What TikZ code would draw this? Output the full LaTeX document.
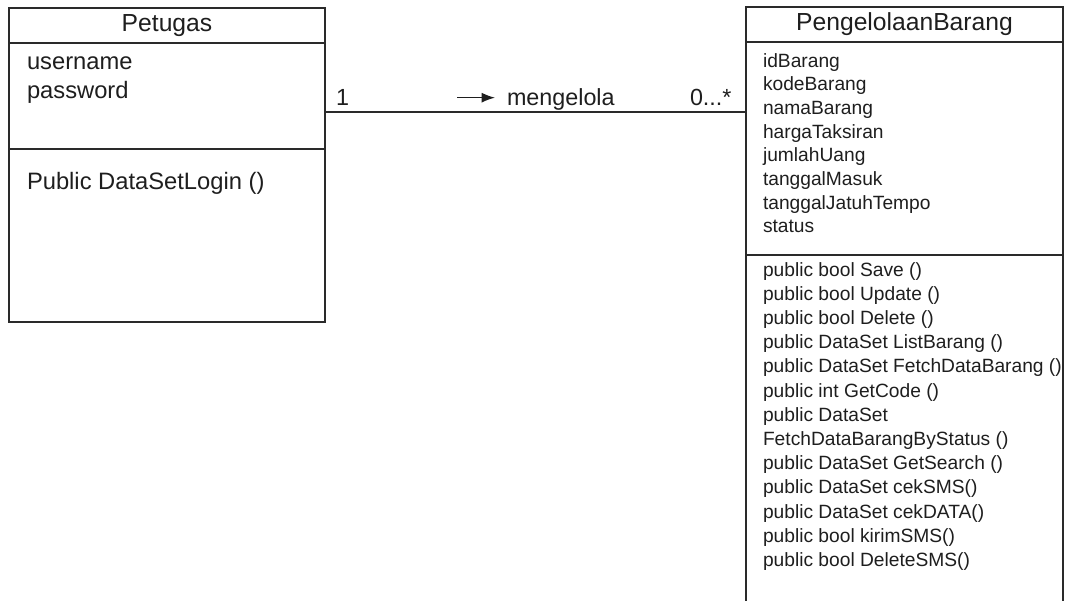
\documentclass[tikz,border=0pt]{standalone}
\usepackage{fontspec}
\setmainfont{Liberation Sans}
\usetikzlibrary{arrows.meta,positioning}
\definecolor{UmlInk}{HTML}{1E1E1E}
\definecolor{UmlLine}{HTML}{2A2A2A}
\tikzset{
  every node/.style={inner sep=0pt, outer sep=0pt, text=UmlInk},
  compartment/.style={draw=UmlLine, line width=1.1pt, rectangle},
  classname/.style={compartment, font=\fontsize{18.5}{22}\selectfont},
  member/.style={anchor=base west, font=\fontsize{14.4}{17}\selectfont},
  bigmember/.style={anchor=base west, font=\fontsize{17.8}{21}\selectfont},
  assoclabel/.style={anchor=base west, font=\fontsize{17.5}{21}\selectfont},
  association/.style={draw=UmlLine, line width=1.1pt},
  direction/.style={-{Latex[length=10pt,width=7.5pt]}, draw=UmlInk, line width=1pt},
}
\begin{document}
\begin{tikzpicture}[x=0.75pt,y=-0.75pt]
  \clip (0,0) rectangle (1066,600);

  % Class Petugas
  \node[classname, minimum width=237pt, minimum height=26.25pt, anchor=north west] (petugas-head) at (9,8) {Petugas};
  \node[compartment, minimum width=237pt, minimum height=79.5pt, below=0pt of petugas-head] (petugas-attr) {};
  \node[compartment, minimum width=237pt, minimum height=129.75pt, below=0pt of petugas-attr] (petugas-ops) {};
  \node[bigmember] (petugas-a1) at (27,69) {username};
  \node[bigmember] (petugas-a2) at (27,98) {password};
  \node[bigmember] (petugas-m1) at (27,189) {Public DataSetLogin ()};

  % Class PengelolaanBarang (runs off the bottom)
  \node[classname, minimum width=237.75pt, minimum height=26.25pt, anchor=north west] (barang-head) at (746,7) {PengelolaanBarang};
  \node[compartment, minimum width=237.75pt, minimum height=159.75pt, below=0pt of barang-head] (barang-attr) {};
  \node[compartment, minimum width=237.75pt, minimum height=288.75pt, below=0pt of barang-attr] (barang-ops) {};
  \foreach \name [count=\i from 0] in {idBarang, kodeBarang, namaBarang, hargaTaksiran, jumlahUang, tanggalMasuk, tanggalJatuhTempo, status}
    \node[member] (barang-a\i) at (763,67+23.7*\i) {\name};
  \foreach \name [count=\i from 0] in {public bool Save (), public bool Update (), public bool Delete (), public DataSet ListBarang (), public DataSet FetchDataBarang (), public int GetCode (), public DataSet, FetchDataBarangByStatus (), public DataSet GetSearch (), public DataSet cekSMS(), public DataSet cekDATA(), public bool kirimSMS(), public bool DeleteSMS()}
    \node[member] (barang-m\i) at (763,276+24.2*\i) {\name};

  % Association
  \coordinate (assoc) at (0,112);
  \draw[association] (petugas-attr.east |- assoc) -- (barang-attr.west |- assoc);
  \node[assoclabel] (mult-left) at (336,105) {1};
  \node[assoclabel] (mengelola) at (507,105) {mengelola};
  \node[assoclabel] (mult-right) at (690,105) {0...*};
  \draw[direction] ([xshift=-37.5pt,yshift=5.5pt]mengelola.base west) -- ([xshift=-9pt,yshift=5.5pt]mengelola.base west);
\end{tikzpicture}
\end{document}
